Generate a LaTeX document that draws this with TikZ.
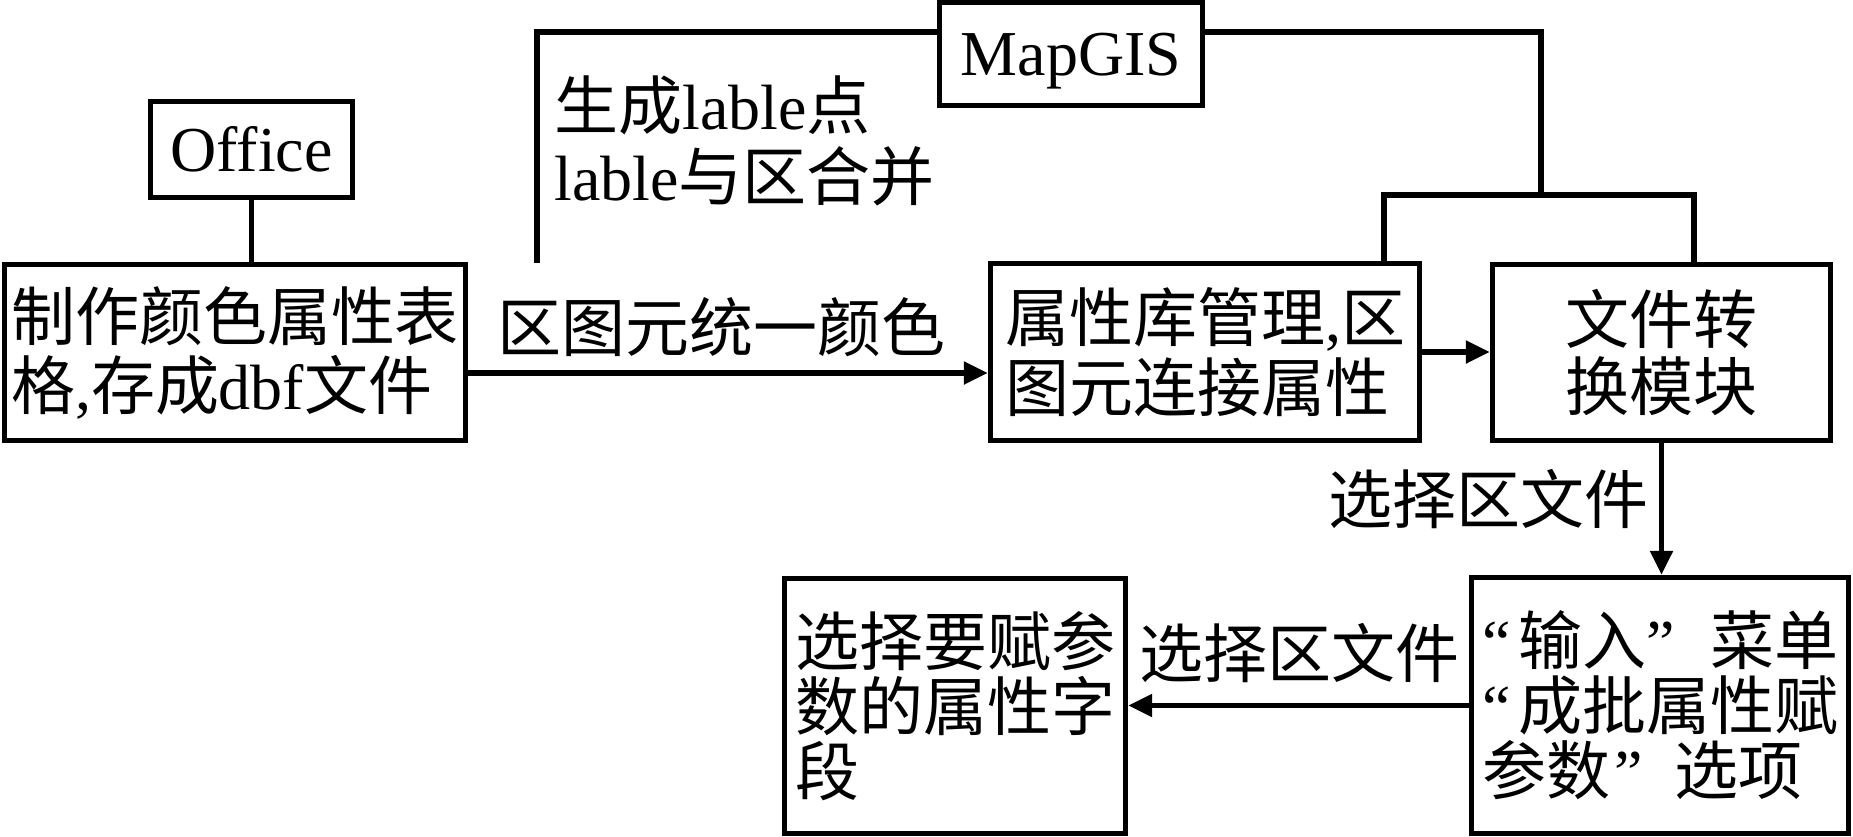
\documentclass[tikz,border=0pt]{standalone}
\usepackage{fontspec}
\setmainfont{Liberation Serif}
\newfontfamily\cjk{Noto Sans CJK SC}
\usetikzlibrary{arrows.meta}
\newcommand\lat[1]{{\rmfamily #1}}
\begin{document}
\begin{tikzpicture}[x=0.5pt,y=-0.5pt,
  box/.style={draw, line width=2.7pt, inner sep=0pt, align=left,
    font=\cjk\fontsize{32}{33}\selectfont},
  lab/.style={inner sep=0pt, anchor=west, align=left,
    font=\cjk\fontsize{32}{33}\selectfont},
  ln/.style={line width=2.7pt},
  arr/.style={line width=2.7pt, -{Triangle[length=12pt,width=11pt]}}]
\useasboundingbox (0,0) rectangle (1853,836);

% boxes
\node[box, minimum width=101pt, minimum height=48pt, font=\rmfamily\fontsize{32}{33}\selectfont] (office) at (251.5,149.5) {Office};
\node[box, minimum width=131.5pt, minimum height=51.5pt, text depth=0pt, font=\rmfamily\fontsize{32}{33}\selectfont] (mapgis) at (1071,54) {MapGIS};
\node[box, minimum width=230.5pt, minimum height=88pt, text width=224pt,
  font=\cjk\fontsize{32}{34.5}\selectfont] (box1) at (235,352.5)
  {制作颜色属性表\\格\lat{,}存成\lat{dbf}文件};
\node[box, minimum width=214.5pt, minimum height=88.5pt, text width=200pt,
  font=\cjk\fontsize{32}{35}\selectfont] (box2) at (1205,352)
  {属性库管理\lat{,}区\\图元连接属性};
\node[box, minimum width=169pt, minimum height=88pt, align=center,
  font=\cjk\fontsize{32}{33.5}\selectfont] (box3) at (1661.5,352.5)
  {文件转\\换模块};
\node[box, minimum width=188.5pt, minimum height=128pt, text width=178pt,
  font=\cjk\fontsize{32}{32.5}\selectfont] (box4) at (1660,705.5)
  {\makebox[18pt][l]{\lat{“}}输入\makebox[32pt][l]{\lat{”}}菜单\\
   \makebox[18pt][l]{\lat{“}}成批属性赋\\
   参数\makebox[32pt][l]{\hspace{2pt}\lat{”}}选项};
\node[box, minimum width=170.5pt, minimum height=127.5pt, text width=160pt,
  font=\cjk\fontsize{32}{32.5}\selectfont] (box5) at (955,706)
  {选择要赋参\\数的属性字\\段};

% labels
\node[lab, font=\cjk\fontsize{32}{35.5}\selectfont] (lab1) at (554,140.5)
  {生成\lat{lable}点\\\lat{lable}与区合并};
\node[lab] (lab2) at (497,327) {区图元统一颜色};
\node[lab] (lab3) at (1328,499) {选择区文件};
\node[lab] (lab4) at (1139,653) {选择区文件};

% connectors
\coordinate (tl) at (537,32);
\coordinate (tlend) at (537,263);
\draw[ln] (mapgis.west |- tl) -- (tl) -- (tlend);
\coordinate (tr) at (1541,32);
\coordinate (trb) at (1541,195);
\draw[ln] (mapgis.east |- tr) -- (tr) -- (trb);
\coordinate (bl) at (1384,195);
\coordinate (brc) at (1694,195);
\draw[ln] (bl |- box2.north) -- (bl) -- (brc) -- (brc |- box3.north);
\draw[ln] (office.south) -- (office.south |- box1.north);
\coordinate (a1) at (0,373);
\draw[arr] (box1.east |- a1) -- (box2.west |- a1);
\draw[arr] (box2.east) -- (box2.east -| box3.west);
\draw[arr] (box3.south) -- (box3.south |- box4.north);
\draw[arr] (box4.west) -- (box4.west -| box5.east);
\end{tikzpicture}
\end{document}
